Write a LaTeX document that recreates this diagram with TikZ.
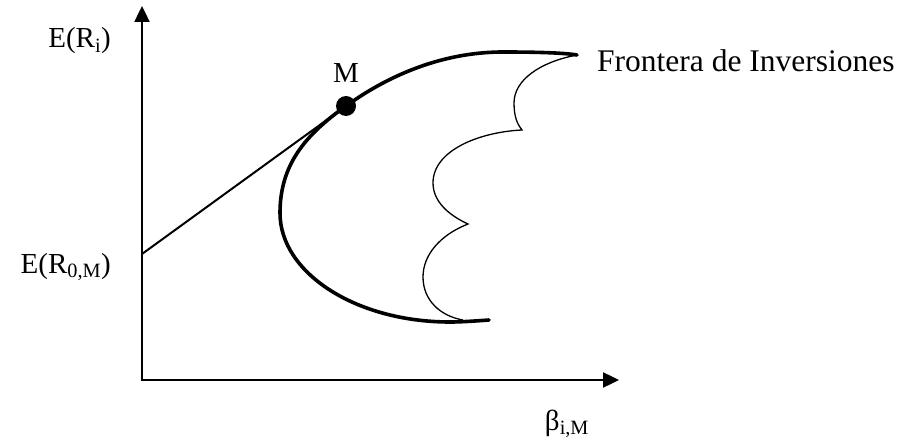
\documentclass[tikz,border=0pt]{standalone}
\usepackage{fontspec}
\setmainfont{Liberation Serif}
\usetikzlibrary{arrows.meta}
\begin{document}
\begin{tikzpicture}[x=1pt,y=-1pt,
  lbl/.style={inner sep=0pt,font=\fontsize{29}{34}\selectfont},
  axis/.style={line width=2.4pt,{Triangle[length=16pt,width=15pt]}-{Triangle[length=16pt,width=15pt]}},
  thick frontier/.style={line width=3.6pt},
  thin frontier/.style={line width=1.3pt,line join=miter},
  cml/.style={line width=2pt}]
\useasboundingbox (0,0) rectangle (901,443);
\coordinate (ytip) at (142,6);
\coordinate (O) at (142,380);
\coordinate (xtip) at (619,380);
\coordinate (rf) at (142,254);
\coordinate (Mpt) at (346,106);
\coordinate (tip) at (577,55);
\coordinate (bend) at (489,320);
\draw[axis] (ytip) -- (O) -- (xtip);
% capital market line
\draw[cml] (rf) -- (Mpt);
% efficient frontier (thick)
\draw[thick frontier,line cap=round] (bend) .. controls (475,321) and (462,322) .. (450,322)
  .. controls (356,322) and (280,273) .. (280,213)
  .. controls (280,165) and (305,135) .. (Mpt)
  .. controls (396,70) and (450,52) .. (503,52)
  .. controls (540,52) and (565,53) .. (tip);
% scalloped inner boundary
\draw[thin frontier] (tip) .. controls (540,62) and (514,80) .. (514,103)
  .. controls (514,118) and (518,125) .. (522,130)
  .. controls (480,132) and (433,150) .. (433,183)
  .. controls (433,205) and (455,218) .. (468,224)
  .. controls (440,235) and (423,255) .. (423,277)
  .. controls (423,300) and (440,316) .. (463,320);
\fill (Mpt) circle (10);
\node[lbl,anchor=base] (Mlab) at (346,83) {M};
\node[lbl,anchor=base east] (ERi) at (111,48) {E(R\textsubscript{i})};
\node[lbl,anchor=base east] (ER0) at (111,273) {E(R\textsubscript{0,M})};
\node[lbl,anchor=base] (beta) at (567,430) {β\textsubscript{i,M}};
\node[inner sep=0pt,anchor=base west,font=\fontsize{31.5}{36}\selectfont] (front) at (597,72) {Frontera de Inversiones};
\end{tikzpicture}
\end{document}
